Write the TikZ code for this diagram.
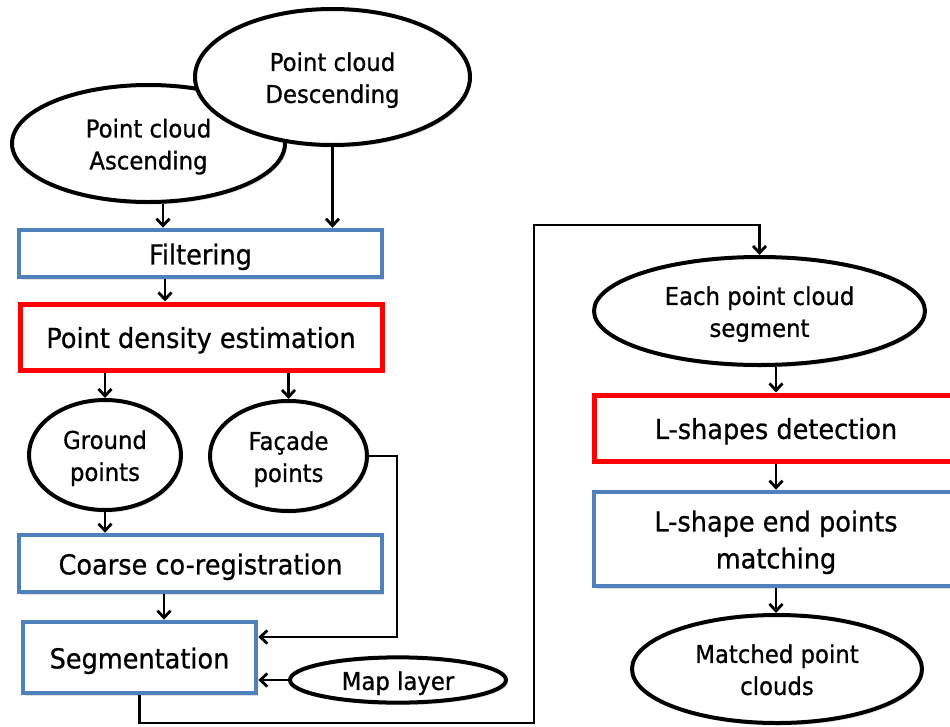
\documentclass[tikz,border=0pt]{standalone}
\usepackage{fontspec}
\setmainfont{DejaVu Sans}[FakeStretch=0.93,FakeBold=0.8]
\usetikzlibrary{shapes.geometric,arrows.meta,shadows}
\definecolor{boxblue}{HTML}{4F81BD}
\definecolor{boxred}{HTML}{FF0000}
\newcommand{\dntext}[1]{\raisebox{-3.5pt}[\height][\depth]{\begin{tabular}{@{}c@{}}#1\end{tabular}}}
\begin{document}
\begin{tikzpicture}[x=1pt,y=-1pt,
  shad/.style={drop shadow={opacity=0.25,shadow xshift=1.5pt,shadow yshift=-2.5pt}},
  bluebox/.style={rectangle,draw=boxblue,line width=4.5pt,fill=white,inner sep=0pt,
    font=\fontsize{27.5}{37}\selectfont,shad},
  redbox/.style={bluebox,draw=boxred,line width=5pt},
  oval/.style={ellipse,draw=black,line width=4pt,fill=white,inner sep=0pt,
    font=\fontsize{24.5}{32}\selectfont,shad},
  arr/.style={line width=2.6pt,-{Straight Barb[length=7pt,width=13pt,line width=2.8pt]}},
  ln/.style={line width=2.6pt}
]
\path[use as bounding box,clip] (0,0) rectangle (950,726);
\fill[white] (0,0) rectangle (950,726);

% left column
\node[oval,minimum width=273pt,minimum height=117pt] (asc) at (148.5,143.5) {\dntext{Point cloud\\Ascending}};
\node[oval,minimum width=275pt,minimum height=136pt] (desc) at (332.5,77) {\dntext{Point cloud\\Descending}};
\node[bluebox,minimum width=363pt,minimum height=47pt] (filt) at (200.5,253.5) {\dntext{Filtering}};
\node[redbox,minimum width=362pt,minimum height=66pt] (pde) at (201,337) {\dntext{Point density estimation}};
\node[oval,minimum width=152pt,minimum height=110pt] (ground) at (105,455) {\dntext{Ground\\points}};
\node[oval,minimum width=157pt,minimum height=110pt] (fac) at (288.5,456) {\dntext{Façade\\points}};
\node[bluebox,minimum width=363pt,minimum height=57pt] (coarse) at (200.5,563.5) {\dntext{Coarse co-registration}};
\node[bluebox,minimum width=233pt,minimum height=71pt] (seg) at (139.5,657.5) {\dntext{Segmentation}};
\node[oval,minimum width=216pt,minimum height=44pt] (map) at (398,680) {\dntext{Map layer}};

% right column
\node[oval,minimum width=331pt,minimum height=108pt] (each) at (759.5,311) {\dntext{Each point cloud\\segment}};
\node[redbox,minimum width=364pt,minimum height=66pt] (lsd) at (776,428) {\dntext{L-shapes detection}};
\node[bluebox,minimum width=364pt,minimum height=94pt] (lmatch) at (776,539) {\dntext{L-shape end points\\matching}};
\node[oval,minimum width=290pt,minimum height=108pt] (matched) at (777,669) {\dntext{Matched point\\clouds}};

% helper coordinates
\coordinate (fx) at (397,637);
\coordinate (b1) at (534,723);
\coordinate (t1) at (534,225);

% connectors
\draw[arr] ([xshift=14.5pt]asc.south) -- ([xshift=14.5pt]asc.south |- filt.north);
\draw[arr] (desc.south) -- (desc.south |- filt.north);
\draw[arr] ([xshift=-35.5pt]filt.south) -- ([xshift=-35.5pt]filt.south |- pde.north);
\draw[arr] (pde.south -| ground.north) -- (ground.north);
\draw[arr] (pde.south -| fac.north) -- (fac.north);
\draw[arr] (ground.south) -- (ground.south |- coarse.north);
\draw[arr] ([xshift=-36.5pt]coarse.south) -- ([xshift=-36.5pt]coarse.south |- seg.north);
\draw[arr] (fac.east) -| (fx) -- (fx -| seg.east);
\draw[arr] (map.west) -- (map.west -| seg.east);
\draw[arr] (seg.south) |- (b1) -- (t1) -| (each.north);
\draw[arr] (each.south -| lsd.north) -- (lsd.north);
\draw[arr] (lsd.south) -- (lmatch.north);
\draw[arr] (lmatch.south) -- (lmatch.south |- matched.north);
\end{tikzpicture}
\end{document}
